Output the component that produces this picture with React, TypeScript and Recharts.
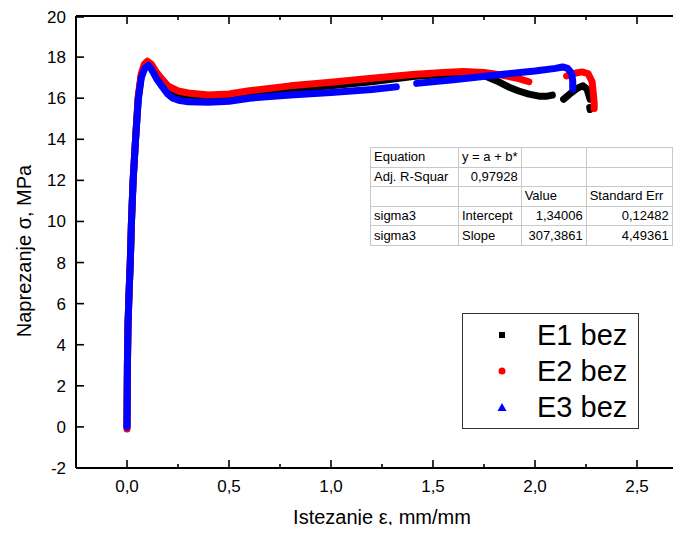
import React from 'react';
import { LineChart, Line, XAxis, YAxis } from 'recharts';

const FONT = '"Liberation Sans", Arial, sans-serif';

// Tick values
const xTicks = [0, 0.25, 0.5, 0.75, 1.0, 1.25, 1.5, 1.75, 2.0, 2.25, 2.5];
const yTicks = [-2, -1, 0, 1, 2, 3, 4, 5, 6, 7, 8, 9, 10, 11, 12, 13, 14, 15, 16, 17, 18, 19, 20];

// E1 bez (black)
const e1Strain = [0, 0.002, 0.005, 0.01, 0.016, 0.022, 0.03, 0.042, 0.055, 0.07, 0.085, 0.1, 0.12, 0.145, 0.17, 0.2, 0.25, 0.3, 0.4, 0.5, 0.6, 0.8, 1.0, 1.2, 1.4, 1.55, 1.68, 1.75, 1.81, 1.87, 1.92, 1.97, 2.02, 2.06, 2.085, 2.12, 2.14, 2.17, 2.21, 2.235, 2.255, 2.27, 2.28, 2.268, 2.27];
const e1Stress = [0, 3, 5, 6.5, 8, 10, 12, 14, 16, 17.1, 17.55, 17.7, 17.5, 17.05, 16.7, 16.35, 16.15, 16.05, 15.98, 16.02, 16.2, 16.42, 16.6, 16.8, 17.05, 17.15, 17.22, 17.1, 16.85, 16.55, 16.35, 16.2, 16.1, 16.1, 16.15, null, 15.95, 16.2, 16.5, 16.6, 16.45, 15.95, null, 15.55, 15.45];

// E2 bez (red)
const e2Strain = [0, 0, 0.002, 0.005, 0.01, 0.016, 0.022, 0.03, 0.042, 0.055, 0.07, 0.085, 0.1, 0.12, 0.145, 0.17, 0.2, 0.25, 0.3, 0.4, 0.5, 0.6, 0.8, 1.0, 1.2, 1.4, 1.55, 1.65, 1.75, 1.85, 1.92, 1.97, 2.06, 2.155, 2.19, 2.23, 2.26, 2.28, 2.285, 2.29, 2.29];
const e2Stress = [-0.1, 1, 3, 5, 6.5, 8, 10, 12, 14, 16.1, 17.2, 17.65, 17.8, 17.65, 17.25, 16.95, 16.6, 16.35, 16.25, 16.15, 16.2, 16.36, 16.6, 16.78, 16.97, 17.15, 17.25, 17.3, 17.25, 17.1, 16.95, 16.8, null, 17.08, 17.2, 17.28, 17.2, 16.8, 16.3, 15.8, 15.5];

// E3 bez (blue)
const e3Strain = [0, 0.002, 0.005, 0.01, 0.016, 0.022, 0.03, 0.042, 0.055, 0.07, 0.087, 0.105, 0.12, 0.145, 0.17, 0.2, 0.225, 0.26, 0.3, 0.4, 0.5, 0.6, 0.8, 1.0, 1.2, 1.32, 1.37, 1.42, 1.6, 1.8, 2.0, 2.1, 2.135, 2.16, 2.18, 2.185, 2.185];
const e3Stress = [0, 3, 5, 6.5, 8, 10, 12, 14, 15.9, 17.0, 17.45, 17.6, 17.4, 16.95, 16.6, 16.2, 16.0, 15.88, 15.83, 15.8, 15.85, 16.0, 16.15, 16.28, 16.42, 16.55, null, 16.72, 16.9, 17.12, 17.32, 17.45, 17.52, 17.45, 17.2, 16.8, 16.45];

const toPoints = (xs: number[], ys: (number | null)[]) => xs.map((x, i) => ({ x, y: ys[i] }));

const series = [
  { name: 'E1 bez', color: '#000000', shape: 'square', data: toPoints(e1Strain, e1Stress) },
  { name: 'E2 bez', color: '#ff0000', shape: 'circle', data: toPoints(e2Strain, e2Stress) },
  { name: 'E3 bez', color: '#0000ff', shape: 'triangle', data: toPoints(e3Strain, e3Stress) },
];

// Fit table
const tableRows = [
  ['Equation', 'y = a + b*', '', ''],
  ['Adj. R-Squar', '0,97928', '', ''],
  ['', '', 'Value', 'Standard Err'],
  ['sigma3', 'Intercept', '1,34006', '0,12482'],
  ['sigma3', 'Slope', '307,3861', '4,49361'],
];
const colWidths = [88, 61, 65, 86];
const rightAligned = (r: number, c: number) => (r === 1 && c === 1) || (r >= 3 && c >= 2);

const fmtX = (v: number) => v.toFixed(1).replace('.', ',');
const isMajorX = (v: number) => Math.abs(v * 2 - Math.round(v * 2)) < 1e-6;
const isMajorY = (v: number) => v % 2 === 0;

const BottomTick = (props: any) => {
  const { x, y, payload } = props;
  const major = isMajorX(payload.value);
  return (
    <g>
      <line x1={x} x2={x} y1={y} y2={y - (major ? 8 : 4)} stroke="#000" strokeWidth={1.6} />
      {major && (
        <text x={x} y={y + 24} textAnchor="middle" fontSize={17} fontFamily={FONT} fill="#000">
          {fmtX(payload.value)}
        </text>
      )}
    </g>
  );
};

const TopTick = (props: any) => {
  const { x, y, payload } = props;
  const major = isMajorX(payload.value);
  return <line x1={x} x2={x} y1={y} y2={y + (major ? 8 : 4)} stroke="#000" strokeWidth={1.6} />;
};

const LeftTick = (props: any) => {
  const { x, y, payload } = props;
  const major = isMajorY(payload.value);
  return (
    <g>
      <line x1={x} x2={x + (major ? 8 : 4)} y1={y} y2={y} stroke="#000" strokeWidth={1.6} />
      {major && (
        <text x={x - 10} y={y + 6} textAnchor="end" fontSize={17} fontFamily={FONT} fill="#000">
          {payload.value}
        </text>
      )}
    </g>
  );
};

const YTitle = (props: any) => {
  const vb = props.viewBox;
  const cx = vb.x + 23;
  const cy = vb.y + vb.height / 2 + 9;
  return (
    <text x={cx} y={cy} transform={`rotate(-90 ${cx} ${cy})`} textAnchor="middle" fontSize={20} fontFamily={FONT} fill="#000">
      Naprezanje σ, MPa
    </text>
  );
};

const Marker = ({ shape, color }: { shape: string; color: string }) => (
  <svg width={12} height={12} style={{ display: 'block' }}>
    {shape === 'square' && <rect x={3} y={3} width={6} height={6} fill={color} />}
    {shape === 'circle' && <circle cx={6} cy={6} r={3.5} fill={color} />}
    {shape === 'triangle' && <polygon points="6,2 10.5,10 1.5,10" fill={color} />}
  </svg>
);

export default function App() {
  return (
    <div style={{ position: 'relative', width: 673, height: 525, marginBottom: -8, overflow: 'hidden', background: '#fff' }}>
      <LineChart width={690} height={525} margin={{ top: 0, right: 10, bottom: 0, left: 0 }}>
        <XAxis
          xAxisId="b"
          type="number"
          dataKey="x"
          domain={[-0.25, 2.75]}
          ticks={xTicks}
          allowDataOverflow
          height={65}
          tickSize={0}
          tickMargin={0}
          tick={<BottomTick />}
          tickLine={false}
          axisLine={{ stroke: '#000', strokeWidth: 2 }}
          label={{ value: 'Istezanje ε, mm/mm', position: 'insideBottom', offset: 9, fontSize: 20, fontFamily: FONT, fill: '#000' }}
        />
        <XAxis
          xAxisId="t"
          orientation="top"
          type="number"
          dataKey="x"
          domain={[-0.25, 2.75]}
          ticks={xTicks}
          allowDataOverflow
          height={8}
          tickSize={0}
          tickMargin={0}
          tick={<TopTick />}
          tickLine={false}
          axisLine={{ stroke: '#000', strokeWidth: 2 }}
        />
        <YAxis
          yAxisId="l"
          type="number"
          domain={[-2, 20]}
          ticks={yTicks}
          allowDataOverflow
          width={68}
          tickSize={0}
          tickMargin={0}
          tick={<LeftTick />}
          tickLine={false}
          axisLine={{ stroke: '#000', strokeWidth: 2 }}
          label={{ content: <YTitle /> }}
        />
        {series.map((s) => (
          <Line
            key={s.name}
            xAxisId="b"
            yAxisId="l"
            data={s.data}
            dataKey="y"
            type="linear"
            stroke={s.color}
            strokeWidth={7}
            strokeLinecap="round"
            strokeLinejoin="round"
            dot={false}
            activeDot={false}
            connectNulls={false}
            isAnimationActive={false}
          />
        ))}
      </LineChart>

      <table
        style={{
          position: 'absolute',
          left: 362,
          top: 139,
          borderCollapse: 'collapse',
          tableLayout: 'fixed',
          fontFamily: FONT,
          fontSize: 13,
          background: '#fff',
          border: '1px solid #444',
        }}
      >
        <colgroup>
          {colWidths.map((w, i) => (
            <col key={i} style={{ width: w }} />
          ))}
        </colgroup>
        <tbody>
          {tableRows.map((row, r) => (
            <tr key={r}>
              {row.map((cell, c) => (
                <td
                  key={c}
                  style={{
                    border: '1px solid #c8c8c8',
                    height: 18.6,
                    padding: '0 3px',
                    whiteSpace: 'nowrap',
                    overflow: 'hidden',
                    textAlign: rightAligned(r, c) ? 'right' : 'left',
                    lineHeight: '18px',
                    color: '#000',
                  }}
                >
                  {cell}
                </td>
              ))}
            </tr>
          ))}
        </tbody>
      </table>

      <div
        style={{
          position: 'absolute',
          left: 454,
          top: 305,
          width: 175,
          height: 111,
          border: '1px solid #333',
          background: '#fff',
          fontFamily: FONT,
          fontSize: 29,
          paddingTop: 3,
          boxSizing: 'content-box',
        }}
      >
        {series.map((s) => (
          <div key={s.name} style={{ display: 'flex', alignItems: 'center', height: 36 }}>
            <div style={{ width: 33, marginLeft: 33 }}>
              <Marker shape={s.shape} color={s.color} />
            </div>
            <span style={{ marginLeft: 8, lineHeight: '36px' }}>{s.name}</span>
          </div>
        ))}
      </div>
    </div>
  );
}
